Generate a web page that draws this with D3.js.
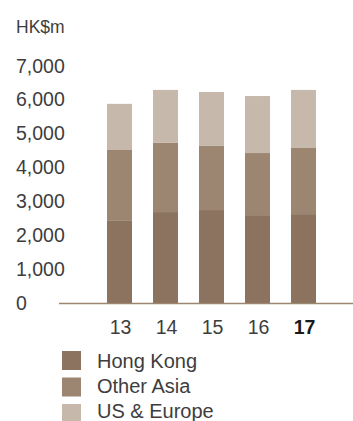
<!DOCTYPE html>
<html>
<head>
<meta charset="utf-8">
<script src="https://cdn.jsdelivr.net/npm/d3@7"></script>
<style>
  body { margin: 0; background: #fff; }
  svg text { font-family: "Liberation Sans", Arial, sans-serif; fill: #3d3d3d; }
</style>
</head>
<body>
<svg id="chart" width="353" height="421"></svg>
<script>
// data
var years = ['13', '14', '15', '16', '17'];
var hongKong = [2420, 2680, 2740, 2590, 2620];
var otherAsia = [2090, 2040, 1890, 1830, 1950];
var usEurope = [1360, 1560, 1590, 1680, 1710];
var yTicks = [0, 1000, 2000, 3000, 4000, 5000, 6000, 7000];
var seriesNames = ['Hong Kong', 'Other Asia', 'US & Europe'];
var colors = ['#8b735f', '#9c8671', '#c6b8aa'];

var svg = d3.select('#chart');

var rows = years.map(function (yr, i) {
  return { year: yr, hk: hongKong[i], oa: otherAsia[i], us: usEurope[i] };
});

var stack = d3.stack().keys(['hk', 'oa', 'us']);
var layers = stack(rows);

var x = d3.scaleBand()
  .domain(years)
  .range([86, 337])
  .padding(0.4565);

var y = d3.scaleLinear()
  .domain([0, 7000])
  .range([303, 65.5]);

// unit label
svg.append('text')
  .attr('x', 16)
  .attr('y', 33)
  .style('font-size', '17.5px')
  .text('HK$m');

// y tick labels, left aligned
svg.append('g')
  .attr('class', 'axis y')
  .selectAll('text')
  .data(yTicks)
  .enter()
  .append('text')
  .attr('x', 16)
  .attr('y', function (d) { return y(d) + 7; })
  .style('font-size', '19.5px')
  .text(function (d) { return d3.format(',')(d); });

// bars
svg.append('g')
  .attr('class', 'bars')
  .selectAll('g')
  .data(layers)
  .enter()
  .append('g')
  .attr('fill', function (d, i) { return colors[i]; })
  .selectAll('rect')
  .data(function (d) { return d; })
  .enter()
  .append('rect')
  .attr('x', function (d) { return x(d.data.year); })
  .attr('y', function (d) { return y(d[1]); })
  .attr('width', x.bandwidth())
  .attr('height', function (d) { return y(d[0]) - y(d[1]); });

// baseline
svg.append('line')
  .attr('x1', 59)
  .attr('x2', 353)
  .attr('y1', y(0) + 0.5)
  .attr('y2', y(0) + 0.5)
  .attr('stroke', '#9c8671')
  .attr('stroke-width', 1.5);

// x labels, last year bold
svg.append('g')
  .attr('class', 'axis x')
  .selectAll('text')
  .data(years)
  .enter()
  .append('text')
  .attr('x', function (d) { return x(d) + x.bandwidth() / 2 + 1; })
  .attr('y', 334)
  .attr('text-anchor', 'middle')
  .style('font-size', '19.5px')
  .style('font-weight', function (d, i) { return i === years.length - 1 ? 'bold' : 'normal'; })
  .style('fill', function (d, i) { return i === years.length - 1 ? '#1a1a1a' : null; })
  .text(function (d) { return d; });

// legend
var legend = svg.append('g')
  .attr('class', 'legend')
  .selectAll('g')
  .data(seriesNames)
  .enter()
  .append('g');

legend.append('rect')
  .attr('x', 62)
  .attr('y', function (d, i) { return 351 + i * 26.5; })
  .attr('width', 19)
  .attr('height', 19)
  .attr('fill', function (d, i) { return colors[i]; });

legend.append('text')
  .attr('x', 97)
  .attr('y', function (d, i) { return 368 + i * 25; })
  .style('font-size', '20px')
  .text(function (d) { return d; });
</script>
</body>
</html>
